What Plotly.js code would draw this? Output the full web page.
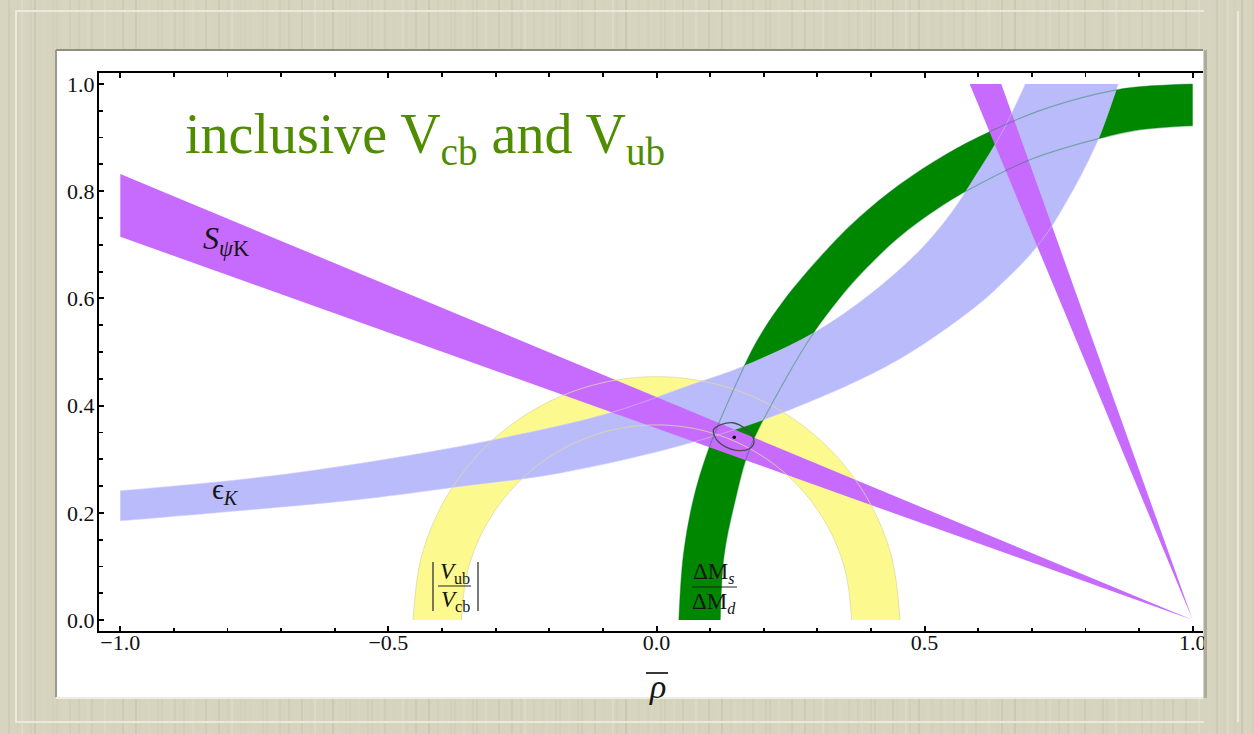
<!DOCTYPE html>
<html><head><meta charset="utf-8">
<script src="https://cdn.plot.ly/plotly-3.0.1.min.js"></script>
<style>html,body{margin:0;padding:0;background:#d6d4be;} #chart{width:1254px;height:734px;}</style>
</head><body><div id="chart"></div>
<script>
// ---------------- data ----------------
const xTickVals = [-1.0, -0.5, 0.0, 0.5, 1.0];
const xTickText = ['\u22121.0', '\u22120.5', '0.0', '0.5', '1.0'];
const yTickVals = [0.0, 0.2, 0.4, 0.6, 0.8, 1.0];
const yTickText = ['0.0', '0.2', '0.4', '0.6', '0.8', '1.0'];

// S_psiK : two wedges with apex at (1,0)
const sPsiKLowRho  = [1.0, -1.0, -1.0, 1.0];
const sPsiKLowEta  = [0.0, 0.832, 0.715, 0.0];
const sPsiKHighRho = [1.0, 0.584, 0.643, 1.0];
const sPsiKHighEta = [0.0, 1.0, 1.0, 0.0];

// eps_K band edges
const epsKLowerRho = [-1.0, -0.554, -0.367, -0.181, 0.062, 0.248, 0.45, 0.603, 0.65, 0.69, 0.73, 0.77, 0.80, 0.826, 0.861];
const epsKLowerEta = [0.185, 0.225, 0.249, 0.274, 0.330, 0.392, 0.485, 0.591, 0.634, 0.674, 0.724, 0.790, 0.846, 0.902, 1.0];
const epsKUpperRho = [-1.0, -0.75, -0.554, -0.305, -0.088, 0.062, 0.161, 0.292, 0.40, 0.491, 0.55, 0.596, 0.645, 0.688];
const epsKUpperEta = [0.241, 0.265, 0.292, 0.336, 0.386, 0.438, 0.473, 0.535, 0.609, 0.690, 0.760, 0.830, 0.911, 1.0];

// Delta M_s / Delta M_d band edges
const dmOuterRho = [0.0417, 0.050, 0.0685, 0.0976, 0.152, 0.187, 0.238, 0.317, 0.377, 0.453, 0.542, 0.621, 0.728, 0.858, 0.93, 1.0];
const dmOuterEta = [0.0, 0.12, 0.224, 0.320, 0.448, 0.52, 0.597, 0.690, 0.75, 0.812, 0.87, 0.911, 0.955, 0.989, 0.997, 1.0];
const dmInnerRho = [0.119, 0.126, 0.147, 0.174, 0.240, 0.2925, 0.341, 0.385, 0.453, 0.528, 0.596, 0.70, 0.8245, 0.904, 1.0];
const dmInnerEta = [0.0, 0.12, 0.224, 0.320, 0.448, 0.535, 0.60, 0.65, 0.715, 0.77, 0.81, 0.86, 0.898, 0.915, 0.922];

// |Vub/Vcb| band edges (half rings around the origin)
const vubOuterRho = [0.454, 0.4385, 0.3932, 0.321, 0.227, 0.1175, 0.0, -0.1175, -0.227, -0.321, -0.3932, -0.4385, -0.454];
const vubOuterEta = [0.0, 0.1175, 0.227, 0.321, 0.3932, 0.4385, 0.454, 0.4385, 0.3932, 0.321, 0.227, 0.1175, 0.0];
const vubInnerRho = [0.364, 0.3516, 0.3152, 0.2574, 0.182, 0.0942, 0.0, -0.0942, -0.182, -0.2574, -0.3152, -0.3516, -0.364];
const vubInnerEta = [0.0, 0.0942, 0.182, 0.2574, 0.3152, 0.3516, 0.364, 0.3516, 0.3152, 0.2574, 0.182, 0.0942, 0.0];

// fit contour (closed: last point repeats the first) and best fit point
const ellRho = [0.106, 0.1216, 0.143, 0.168, 0.182, 0.174, 0.146, 0.115, 0.106];
const ellEta = [0.3545, 0.365, 0.368, 0.3545, 0.334, 0.320, 0.317, 0.333, 0.3545];
const bestRho = [0.145];
const bestEta = [0.341];

// ---------------- styles ----------------
const YELLOW = '#fcfa8f', GREEN = '#008700', BLUE = '#babbfa', PURPLE = '#c76bff';
const SERIF = 'Liberation Serif';

function edge(x, y) {
  return {x: x, y: y, type: 'scatter', mode: 'lines', line: {width: 0, shape: 'spline', smoothing: 1}, hoverinfo: 'skip', showlegend: false};
}
function band(x, y, color) {
  const t = edge(x, y); t.fill = 'tonexty'; t.fillcolor = color; return t;
}
function wedge(x, y, color) {
  return {x: x, y: y, type: 'scatter', mode: 'lines', line: {width: 0}, fill: 'toself', fillcolor: color, hoverinfo: 'skip', showlegend: false};
}
function thin(x, y, color, w) {
  return {x: x, y: y, type: 'scatter', mode: 'lines', line: {width: w, color: color, shape: 'spline', smoothing: 1}, hoverinfo: 'skip', showlegend: false};
}

const traces = [
  edge(vubInnerRho, vubInnerEta),
  band(vubOuterRho, vubOuterEta, YELLOW),
  edge(dmInnerRho, dmInnerEta),
  band(dmOuterRho, dmOuterEta, GREEN),
  edge(epsKLowerRho, epsKLowerEta),
  band(epsKUpperRho, epsKUpperEta, BLUE),
  wedge(sPsiKLowRho, sPsiKLowEta, PURPLE),
  wedge(sPsiKHighRho, sPsiKHighEta, PURPLE),
  thin(vubOuterRho, vubOuterEta, 'rgba(222,218,160,0.8)', 1),
  thin(vubInnerRho, vubInnerEta, 'rgba(222,218,160,0.8)', 1),
  thin(epsKLowerRho, epsKLowerEta, 'rgba(205,205,255,0.55)', 1),
  thin(epsKUpperRho, epsKUpperEta, 'rgba(205,205,255,0.55)', 1),
  thin(dmOuterRho, dmOuterEta, 'rgba(0,120,40,0.38)', 1.2),
  thin(dmInnerRho, dmInnerEta, 'rgba(0,120,40,0.38)', 1.2),
  thin(ellRho, ellEta, '#4a4a58', 1.3),
  {x: bestRho, y: bestEta, type: 'scatter', mode: 'markers', marker: {size: 3.5, color: '#000'}, hoverinfo: 'skip', showlegend: false}
];

// ---------------- page geometry (pixels) ----------------
const L = 99, T = 73, R = 1203, B = 631;
function px(v) { return (v - L) / (R - L); }
function py(v) { return (B - v) / (B - T); }

function pline(x0, y0, x1, y1, color, w, layer) {
  return {type: 'line', xref: 'paper', yref: 'paper', x0: px(x0), y0: py(y0), x1: px(x1), y1: py(y1),
          line: {color: color, width: w}, layer: layer || 'below'};
}
function prect(x0, y0, x1, y1, fill, layer) {
  return {type: 'rect', xref: 'paper', yref: 'paper', x0: px(x0), y0: py(y0), x1: px(x1), y1: py(y1),
          fillcolor: fill, line: {width: 0}, layer: layer || 'below'};
}

const FRAME = '#d6d4be';
const shapes = [];
// wood-like streaks of the frame (decoration)
for (let i = 0; i < 180; i++) {
  const xs = i * 7 + ((i * 37) % 5);
  const a = 0.05 + ((i * 53) % 7) * 0.018;
  const col = (i % 3 === 0) ? 'rgba(255,255,245,' + a + ')' : 'rgba(150,148,120,' + a + ')';
  shapes.push(pline(xs, 0, xs, 734, col, 1 + (i % 2)));
}
shapes.push(
  {type: 'rect', xref: 'paper', yref: 'paper', x0: px(16), y0: py(722), x1: px(1238), y1: py(11),
   fillcolor: 'rgba(0,0,0,0)', line: {color: '#ebe9dc', width: 2}, layer: 'below'},
  prect(57, 50, 1203, 697, '#ffffff'),
  pline(56, 50, 1203, 50, '#8f8e80', 2),
  pline(56, 50, 56, 697, '#9a998a', 2),
  pline(56, 698, 1203, 698, '#eeede2', 2),
  // right frame covering the plot edge
  prect(1204, 0, 1254, 734, FRAME, 'above')
);
for (let i = 0; i < 8; i++) {
  const xs = 1210 + i * 6 + ((i * 37) % 3);
  const a = 0.06 + ((i * 53) % 7) * 0.018;
  shapes.push(pline(xs, 0, xs, 734, (i % 3 === 0) ? 'rgba(255,255,245,' + a + ')' : 'rgba(150,148,120,' + a + ')', 1 + (i % 2), 'above'));
}
shapes.push(
  pline(1205.5, 50, 1205.5, 698, '#adac9d', 3, 'above'),
  pline(1238, 11, 1238, 722, '#ebe9dc', 2, 'above'),
  // fraction bars and absolute value bars
  pline(433, 562, 433, 611, '#333', 1.3, 'above'),
  pline(478, 562, 478, 611, '#333', 1.3, 'above'),
  pline(438, 586, 471, 586, '#222', 1, 'above'),
  pline(692, 587, 737, 587, '#222', 1, 'above'),
  // bar over rho
  pline(646, 673, 668, 673, '#222', 1.8, 'above')
);

function ann(x, y, text, size, xanchor, color) {
  return {xref: 'paper', yref: 'paper', x: px(x), y: py(y), text: text, showarrow: false,
          xanchor: xanchor || 'center', yanchor: 'middle', font: {family: SERIF, size: size, color: color || '#151515'}};
}

const annotations = [
  ann(183, 138, 'inclusive V<sub>cb</sub> and V<sub>ub</sub>', 56, 'left', '#508c00'),
  ann(201, 241, '<i>S</i><sub><i>\u03c8</i>K</sub>', 32, 'left'),
  ann(210, 491, '\u03f5<sub><i>K</i></sub>', 29, 'left'),
  ann(455, 573, '<i>V</i><sub>ub</sub>', 23),
  ann(455, 601, '<i>V</i><sub>cb</sub>', 23),
  ann(714, 573, '\u0394M<sub><i>s</i></sub>', 23),
  ann(714, 603, '\u0394M<sub><i>d</i></sub>', 23),
  ann(657, 686, '<i>\u03c1</i>', 34)
];

function makeAxis(extra) {
  const ax = {
    showline: true, linecolor: '#000', linewidth: 2, mirror: 'ticks',
    ticks: 'inside', ticklen: 5, tickwidth: 2, tickcolor: '#000',
    tickmode: 'array', showgrid: false, zeroline: false, fixedrange: true,
    tickfont: {family: 'Liberation Serif', size: 22, color: '#111'}
  };
  return Object.assign(ax, extra);
}

const layout = {
  width: 1254, height: 734,
  font: {family: 'Liberation Serif', size: 22, color: '#111'},
  margin: {l: L, r: 1254 - R, t: T, b: 734 - B, pad: 0},
  paper_bgcolor: FRAME, plot_bgcolor: '#ffffff',
  showlegend: false,
  xaxis: makeAxis({
    range: [-1.0397, 1.0192], tickvals: xTickVals, ticktext: xTickText, ticklabelstandoff: -9,
    minor: {tickmode: 'linear', tick0: 0, dtick: 0.1, ticks: 'inside', ticklen: 3.5, tickwidth: 1.8, tickcolor: '#000', showgrid: false}
  }),
  yaxis: makeAxis({
    mirror: false, ticklabelstandoff: -2,
    range: [-0.0205, 1.0205], tickvals: yTickVals, ticktext: yTickText,
    minor: {tickmode: 'linear', tick0: 0, dtick: 0.05, ticks: 'inside', ticklen: 3.5, tickwidth: 1.8, tickcolor: '#000', showgrid: false}
  }),
  shapes: shapes,
  annotations: annotations
};

Plotly.newPlot('chart', traces, layout, {staticPlot: true, displayModeBar: false});
</script>
</body></html>
